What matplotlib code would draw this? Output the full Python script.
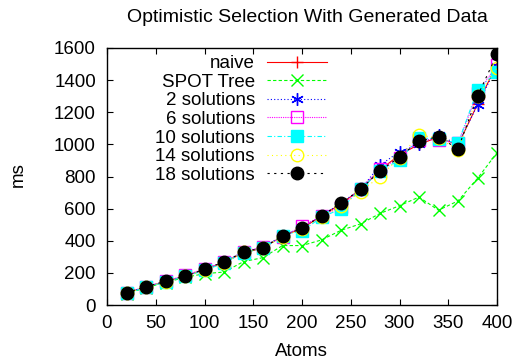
import matplotlib
matplotlib.use("Agg")
import matplotlib.pyplot as plt

plt.rcParams['font.family'] = ['Liberation Sans', 'DejaVu Sans']

# Data
atoms = [20, 40, 60, 80, 100, 120, 140, 160, 180, 200,
         220, 240, 260, 280, 300, 320, 340, 360, 380, 400]
naive = [75, 112, 145, 178, 220, 265, 325, 355, 428, 478,
         553, 630, 718, 840, 935, 1000, 1045, 995, 1250, 1500]
spot_tree = [70, 108, 140, 172, 195, 205, 270, 295, 370, 370,
             405, 465, 505, 570, 618, 672, 590, 648, 788, 948]
sol2 = [76, 113, 146, 180, 222, 270, 330, 360, 432, 480,
        556, 635, 720, 870, 955, 1000, 1058, 1000, 1245, 1490]
sol6 = [76, 114, 148, 185, 225, 268, 332, 362, 425, 490,
        555, 612, 725, 845, 918, 1030, 1027, 1006, 1320, 1494]
sol10 = [72, 110, 143, 178, 215, 262, 326, 352, 432, 462,
         545, 600, 720, 835, 903, 1040, 1035, 1006, 1340, 1453]
sol14 = [74, 112, 145, 178, 218, 264, 328, 355, 426, 475,
         550, 615, 705, 800, 918, 1058, 1040, 965, 1300, 1473]
sol18 = [77, 114, 147, 180, 222, 268, 330, 357, 430, 477,
         556, 633, 720, 834, 921, 1021, 1048, 971, 1301, 1561]

labels = ["naive", "SPOT Tree", "2 solutions", "6 solutions",
          "10 solutions", "14 solutions", "18 solutions"]
series = [naive, spot_tree, sol2, sol6, sol10, sol14, sol18]

# gnuplot-like styles
styles = [
    dict(color="#ff0000", ls="-", marker="+", mfc="none"),
    dict(color="#00ff00", ls=(0, (3, 2)), marker="x", mfc="none"),
    dict(color="#0000ff", ls=(0, (1, 2)), marker=(6, 2, 0), mfc="none"),
    dict(color="#ff00ff", ls=(0, (1, 1)), marker="s", mfc="none"),
    dict(color="#00ffff", ls=(0, (4, 2, 1, 2)), marker="s", mfc="#00ffff"),
    dict(color="#ffff00", ls=(0, (1, 3)), marker="o", mfc="none"),
    dict(color="#000000", ls=(0, (2, 4)), marker="o", mfc="#000000"),
]

fs = 13.5

fig = plt.figure(figsize=(5.16, 3.6), dpi=100)
ax = fig.add_axes([107 / 516, 1 - 305 / 360, 390 / 516, 257 / 360])

for lab, ys, st in zip(labels, series, styles):
    ax.plot(atoms, ys, label=lab, color=st["color"], linestyle=st["ls"],
            linewidth=0.8, marker=st["marker"], markersize=9,
            markerfacecolor=st["mfc"], markeredgecolor=st["color"],
            markeredgewidth=1.0)

ax.set_xlim(0, 400)
ax.set_ylim(0, 1600)
ax.set_xticks(range(0, 401, 50))
ax.set_yticks(range(0, 1601, 200))
ax.tick_params(direction="in", top=True, right=True, length=4,
               labelsize=fs, width=0.8)
ax.tick_params(axis="y", pad=8)
ax.tick_params(axis="x", pad=7)
for sp in ax.spines.values():
    sp.set_linewidth(1.0)

fig.text(307 / 516, 1 - 18 / 360, "Optimistic Selection With Generated Data",
         ha="center", va="center", fontsize=14)
fig.text(18 / 516, 1 - 175 / 360, "ms", ha="center", va="center",
         rotation=90, fontsize=fs)
fig.text(301 / 516, 1 - 351 / 360, "Atoms", ha="center", va="center",
         fontsize=fs)

leg = ax.legend(loc="upper right", bbox_to_anchor=(327 / 516, 1 - 55 / 360),
                bbox_transform=fig.transFigure, frameon=False,
                markerfirst=False, fontsize=fs, handlelength=3.2,
                handletextpad=0.65, labelspacing=0.08, borderpad=0,
                borderaxespad=0)
for col in leg._legend_handle_box.get_children():
    col.align = "right"

fig.savefig("out.png", dpi=100)
